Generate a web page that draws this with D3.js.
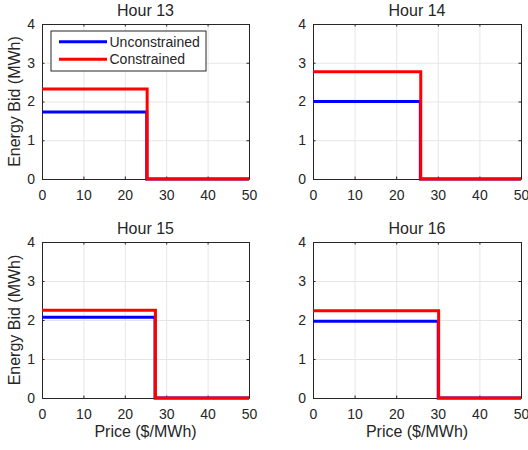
<!DOCTYPE html>
<html>
<head>
<meta charset="utf-8">
<script src="https://cdn.jsdelivr.net/npm/d3@7"></script>
<style>
  body { margin: 0; background: #fff; }
  text { font-family: "Liberation Sans", Arial, sans-serif; fill: #262626; }
</style>
</head>
<body>
<svg id="chart"></svg>
<script>
// Bid curves per hour: energy bid (MWh) up to a cut-off price ($/MWh), zero after
const hours = ["Hour 13", "Hour 14", "Hour 15", "Hour 16"];
const unconstrainedBid = [1.73, 2.0, 2.07, 1.97];
const unconstrainedPrice = [25.3, 25.8, 27.3, 30.1];
const constrainedBid = [2.32, 2.77, 2.25, 2.24];
const constrainedPrice = [25.4, 25.9, 27.4, 30.2];
const xTicks = [0, 10, 20, 30, 40, 50];
const yTicks = [0, 1, 2, 3, 4];
const seriesNames = ["Unconstrained", "Constrained"];
const seriesColors = ["#0000ff", "#ff0000"];

const width = 528, height = 450;
const svg = d3.select("#chart").attr("width", width).attr("height", height);

// panel boxes (left, top, width, height)
const panels = [
  { x: 42, y: 24, w: 207, h: 155 },
  { x: 313, y: 24, w: 208, h: 155 },
  { x: 42, y: 242, w: 207, h: 156 },
  { x: 313, y: 242, w: 208, h: 156 },
];

// turn a bid level and cut-off price into a step curve
function stepPoints(bid, price) {
  return [[0, bid], [price, bid], [price, 0], [50, 0]];
}

panels.forEach((p, i) => {
  const x = d3.scaleLinear().domain([0, 50]).range([0, p.w]);
  const y = d3.scaleLinear().domain([0, 4]).range([p.h, 0]);

  const g = svg.append("g").attr("transform", `translate(${p.x},${p.y})`);

  // grid
  const grid = g.append("g").attr("class", "grid");
  grid.append("g")
    .attr("transform", `translate(0,${p.h})`)
    .call(d3.axisBottom(x).tickValues(xTicks).tickSize(-p.h).tickFormat(""));
  grid.append("g")
    .call(d3.axisLeft(y).tickValues(yTicks).tickSize(-p.w).tickFormat(""));
  grid.selectAll(".domain").remove();
  grid.selectAll("line").attr("stroke", "#e6e6e6");

  // axes box with inward ticks
  const axes = g.append("g").attr("class", "axes");
  axes.append("g")
    .attr("transform", `translate(0,${p.h})`)
    .call(d3.axisBottom(x).tickValues(xTicks).tickFormat(d3.format("d"))
      .tickSizeInner(-2.5).tickSizeOuter(0).tickPadding(11));
  axes.append("g")
    .call(d3.axisLeft(y).tickValues(yTicks).tickFormat(d3.format("d"))
      .tickSizeInner(-2.5).tickSizeOuter(0).tickPadding(7));
  axes.append("g")
    .call(d3.axisTop(x).tickValues(xTicks).tickSizeInner(-2.5).tickSizeOuter(0).tickFormat(""));
  axes.append("g")
    .attr("transform", `translate(${p.w},0)`)
    .call(d3.axisRight(y).tickValues(yTicks).tickSizeInner(-2.5).tickSizeOuter(0).tickFormat(""));
  axes.selectAll(".domain, .tick line").attr("stroke", "#262626");
  axes.selectAll(".tick text")
    .style("font-family", "'Liberation Sans', Arial, sans-serif")
    .style("font-size", "14px")
    .attr("fill", "#262626");

  // step lines
  const line = d3.line().x(d => x(d[0])).y(d => y(d[1]));
  const curves = [
    stepPoints(unconstrainedBid[i], unconstrainedPrice[i]),
    stepPoints(constrainedBid[i], constrainedPrice[i]),
  ];
  curves.forEach((pts, k) => {
    g.append("path")
      .datum(pts)
      .attr("d", line)
      .attr("fill", "none")
      .attr("stroke", seriesColors[k])
      .attr("stroke-width", 3)
      .attr("stroke-linejoin", "miter");
  });

  // title
  g.append("text")
    .attr("x", p.w / 2)
    .attr("y", -8)
    .attr("text-anchor", "middle")
    .style("font-size", "16px")
    .text(hours[i]);

  // axis labels
  if (i % 2 === 0) {
    g.append("text")
      .attr("transform", `translate(${-22},${p.h / 2}) rotate(-90)`)
      .attr("text-anchor", "middle")
      .style("font-size", "16px")
      .text("Energy Bid (MWh)");
  }
  if (i >= 2) {
    g.append("text")
      .attr("x", p.w / 2)
      .attr("y", p.h + 39)
      .attr("text-anchor", "middle")
      .style("font-size", "16px")
      .text("Price ($/MWh)");
  }

  // legend in first panel
  if (i === 0) {
    const lg = g.append("g").attr("transform", "translate(9,7)");
    lg.append("rect")
      .attr("width", 155).attr("height", 40)
      .attr("fill", "#fff").attr("stroke", "#262626").attr("stroke-width", 1);
    seriesNames.forEach((name, k) => {
      const yy = 10.7 + k * 17.6;
      lg.append("line")
        .attr("x1", 8).attr("x2", 56)
        .attr("y1", yy).attr("y2", yy)
        .attr("stroke", seriesColors[k]).attr("stroke-width", 3);
      lg.append("text")
        .attr("x", 58.5).attr("y", yy)
        .attr("dy", "0.35em")
        .style("font-size", "14px")
        .text(name);
    });
  }
});
</script>
</body>
</html>
